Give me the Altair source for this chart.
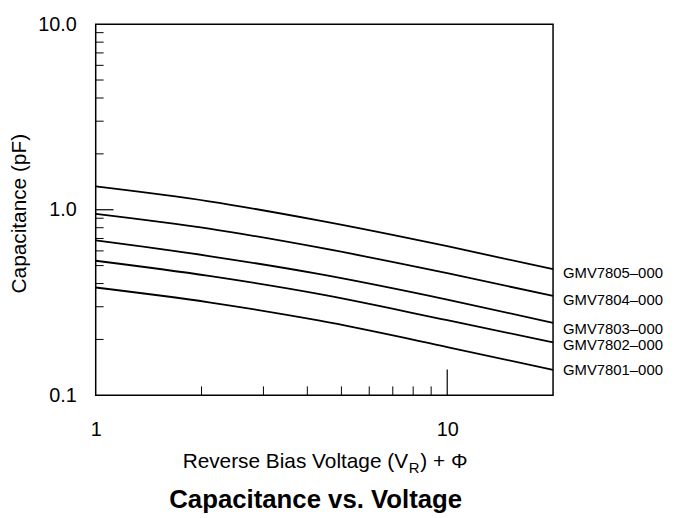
import altair as alt
import pandas as pd

# ---- data ----
voltages = [1, 2.1, 4.3, 10, 20]
c7805 = [1.335, 1.110, 0.876, 0.636, 0.478]
c7804 = [0.951, 0.791, 0.626, 0.455, 0.343]
c7803 = [0.683, 0.563, 0.451, 0.328, 0.246]
c7802 = [0.531, 0.440, 0.352, 0.254, 0.193]
c7801 = [0.381, 0.317, 0.253, 0.182, 0.137]
series_names = ["GMV7805–000", "GMV7804–000", "GMV7803–000", "GMV7802–000", "GMV7801–000"]
label_y = [0.457, 0.325, 0.227, 0.186, 0.136]
label_x = 20

x_tick_labels = [1, 10]
y_tick_labels = [0.1, 1, 10]
x_minor = [2, 3, 4, 5, 6, 7, 8, 9]
y_minor = [0.2, 0.3, 0.4, 0.5, 0.6, 0.7, 0.8, 0.9, 2, 3, 4, 5, 6, 7, 8, 9]

W, H = 461.5, 374.5
FONT = "Liberation Sans"

rows = []
for name, vals in zip(series_names, [c7805, c7804, c7803, c7802, c7801]):
    for v, c in zip(voltages, vals):
        rows.append({"series": name, "v": v, "c": c})
df = pd.DataFrame(rows)
labels_df = pd.DataFrame({"series": series_names, "v": [label_x] * 5, "c": label_y})
xminor_df = pd.DataFrame({"v": x_minor})
yminor_df = pd.DataFrame({"c": y_minor})
xmajor_df = pd.DataFrame({"v": [10]})
ymajor_df = pd.DataFrame({"c": [1]})
one = pd.DataFrame({"k": [0]})

xscale = alt.Scale(type="log", domain=[1, 20], nice=False)
yscale = alt.Scale(type="log", domain=[0.1, 10], nice=False)

xaxis = alt.Axis(values=x_tick_labels, format="~g", title=None, labelPadding=25,
                 labelFlush=False, labelFontSize=20)
yaxis = alt.Axis(values=y_tick_labels, format=".1f", title=None, labelPadding=19.5,
                 labelFlush=False, labelFontSize=20, labelBaseline="middle")

lines = alt.Chart(df).mark_line(color="black", strokeWidth=1.8, interpolate="monotone").encode(
    x=alt.X("v:Q", scale=xscale, axis=xaxis),
    y=alt.Y("c:Q", scale=yscale, axis=yaxis),
    detail="series:N",
)

labels = alt.Chart(labels_df).mark_text(
    align="left", baseline="middle", dx=10, fontSize=15, font=FONT, color="black"
).encode(
    x=alt.X("v:Q", scale=xscale),
    y=alt.Y("c:Q", scale=yscale),
    text="series:N",
)

xminor = alt.Chart(xminor_df).mark_rule(color="black", strokeWidth=1).encode(
    x=alt.X("v:Q", scale=xscale), y=alt.value(H), y2=alt.value(H - 9)
)
xmajor = alt.Chart(xmajor_df).mark_rule(color="black", strokeWidth=1.2).encode(
    x=alt.X("v:Q", scale=xscale), y=alt.value(H), y2=alt.value(H - 26)
)
yminor = alt.Chart(yminor_df).mark_rule(color="black", strokeWidth=1).encode(
    y=alt.Y("c:Q", scale=yscale), x=alt.value(0), x2=alt.value(8)
)
ymajor = alt.Chart(ymajor_df).mark_rule(color="black", strokeWidth=1.2).encode(
    y=alt.Y("c:Q", scale=yscale), x=alt.value(0), x2=alt.value(18)
)

ytitle = alt.Chart(one).mark_text(
    text="Capacitance (pF)", angle=270, fontSize=21, font=FONT, color="black",
    align="center", baseline="middle"
).encode(x=alt.value(-76), y=alt.value(H / 2 + 4))

xt1 = alt.Chart(one).mark_text(
    text="Reverse Bias Voltage (V", fontSize=21, font=FONT, color="black",
    align="right", baseline="alphabetic"
).encode(x=alt.value(315.2), y=alt.value(448))
xt2 = alt.Chart(one).mark_text(
    text="R", fontSize=15, font=FONT, color="black",
    align="left", baseline="alphabetic"
).encode(x=alt.value(316), y=alt.value(453))
xt3 = alt.Chart(one).mark_text(
    text=") + Φ", fontSize=21, font=FONT, color="black",
    align="left", baseline="alphabetic"
).encode(x=alt.value(327.5), y=alt.value(448))

title = alt.Chart(one).mark_text(
    text="Capacitance vs. Voltage", fontSize=26, fontWeight="bold", font=FONT,
    color="black", align="center", baseline="alphabetic"
).encode(x=alt.value(222), y=alt.value(488))

chart = alt.layer(
    lines, labels, xminor, xmajor, yminor, ymajor, ytitle, xt1, xt2, xt3, title
).properties(
    width=W, height=H,
    autosize=alt.AutoSizeParams(type="none"),
    padding={"left": 88.5, "top": 14, "right": 116, "bottom": 121.5},
).configure_view(
    stroke="black", strokeWidth=1.5
).configure_axis(
    domain=False, ticks=False, grid=False, labelFont=FONT, labelColor="black"
)

chart.save("out.html", embed_options={"renderer": "svg", "actions": False})
